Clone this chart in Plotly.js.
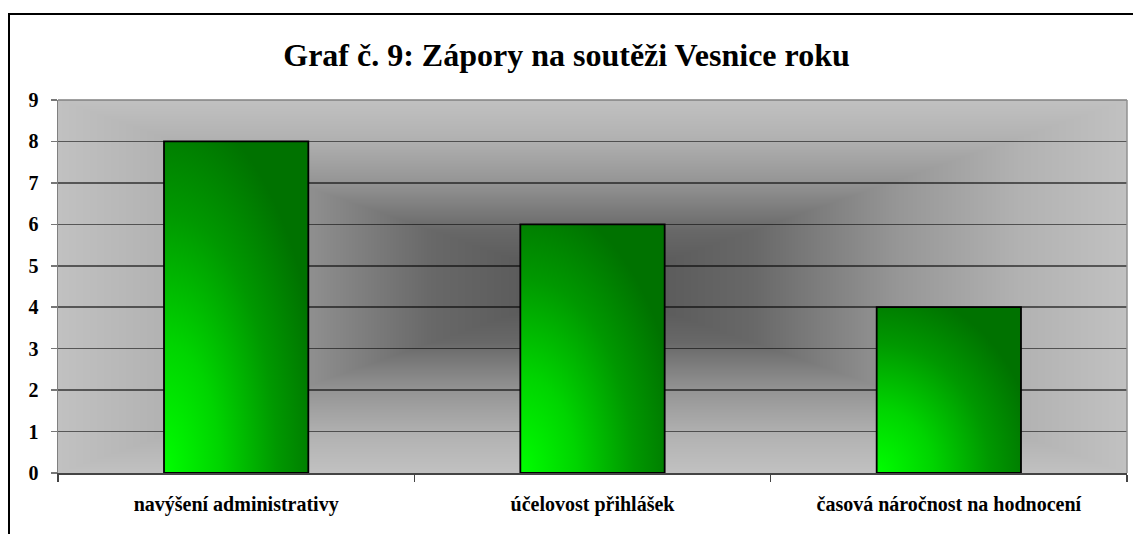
<!DOCTYPE html>
<html>
<head>
<meta charset="utf-8">
<script src="https://cdn.plot.ly/plotly-3.0.1.min.js"></script>
<style>
  html, body { margin: 0; padding: 0; background: #fff; }
  #wrap { position: relative; width: 1133px; height: 534px; overflow: hidden; }
  #chart { position: absolute; left: 0; top: 0; width: 1133px; height: 534px; }
  #frame { position: absolute; left: 8px; top: 13px; width: 1200px; height: 600px;
           border-left: 2.5px solid #000; border-top: 2.5px solid #000; pointer-events: none; }
</style>
</head>
<body>
<div id="wrap">
  <div id="chart"></div>
  <div id="frame"></div>
</div>
<script>
const titleText = "Graf č. 9: Zápory na soutěži Vesnice roku";
const categories = ["navýšení administrativy", "účelovost přihlášek", "časová náročnost na hodnocení"];
const values = [8, 6, 4];
const yTicks = [0, 1, 2, 3, 4, 5, 6, 7, 8, 9];

const W = 1133, H = 534;
const M = { l: 58, r: 6, t: 100, b: 61 };

// Plot-area "from center" gray gradient background
function makeBg(w, h) {
  const c = document.createElement('canvas');
  c.width = w; c.height = h;
  const ctx = c.getContext('2d');
  const img = ctx.createImageData(w, h);
  const stops = [[0, 82], [0.3, 104], [0.57, 150], [0.8, 178], [1, 193]];
  function col(t) {
    for (let i = 1; i < stops.length; i++) {
      if (t <= stops[i][0]) {
        const a = stops[i - 1], b = stops[i];
        const f = (t - a[0]) / (b[0] - a[0]);
        return a[1] + (b[1] - a[1]) * f;
      }
    }
    return stops[stops.length - 1][1];
  }
  const cx = w / 2, cy = h / 2;
  for (let y = 0; y < h; y++) {
    for (let x = 0; x < w; x++) {
      const t = Math.min(1, Math.max(Math.abs(x + 0.5 - cx) / cx, Math.abs(y + 0.5 - cy) / cy));
      const v = Math.round(col(t));
      const k = (y * w + x) * 4;
      img.data[k] = v; img.data[k + 1] = v; img.data[k + 2] = v; img.data[k + 3] = 255;
    }
  }
  ctx.putImageData(img, 0, 0);
  return c.toDataURL('image/png');
}
const pw = W - M.l - M.r, ph = H - M.t - M.b;
const bgSrc = makeBg(pw, ph);

const serif = "'Liberation Serif', 'Times New Roman', 'DejaVu Serif', serif";

const trace = {
  type: 'bar',
  x: categories,
  y: values,
  width: 0.405,
  marker: { color: '#00a000', line: { color: '#000', width: 1.8 } },
  hoverinfo: 'none'
};

const layout = {
  width: W, height: H,
  margin: M,
  paper_bgcolor: '#ffffff',
  plot_bgcolor: 'rgba(0,0,0,0)',
  showlegend: false,
  title: {
    text: titleText,
    font: { family: serif, size: 32, color: '#000', weight: 'bold' },
    x: 0.5, xanchor: 'center', y: 1 - 55 / H, yanchor: 'middle', yref: 'container'
  },
  xaxis: {
    type: 'category',
    tickson: 'boundaries',
    ticks: 'outside', ticklen: 7, tickwidth: 1.5, tickcolor: '#444',
    showline: true, linecolor: '#444', linewidth: 2, mirror: false,
    showgrid: false,
    tickfont: { family: serif, size: 20, color: '#000', weight: 'bold' },
    ticklabelstandoff: 12,
    fixedrange: true
  },
  yaxis: {
    range: [0, 9],
    tickvals: yTicks,
    ticktext: yTicks.map(String),
    ticks: 'outside', ticklen: 6, tickwidth: 1.5, tickcolor: '#777',
    showline: true, linecolor: '#808080', linewidth: 1.5,
    showgrid: true, gridcolor: 'rgba(0,0,0,0.55)', gridwidth: 1.5,
    zeroline: false,
    tickfont: { family: serif, size: 20, color: '#000', weight: 'bold' },
    ticklabelstandoff: 8,
    fixedrange: true
  },
  shapes: [
    { type: 'line', xref: 'paper', yref: 'paper', x0: 0, x1: 1, y0: 1, y1: 1, line: { color: '#808080', width: 1.5 } },
    { type: 'line', xref: 'paper', yref: 'paper', x0: 1, x1: 1, y0: 0, y1: 1, line: { color: '#909090', width: 1.5 } }
  ],
  images: [{
    source: bgSrc, xref: 'paper', yref: 'paper', x: 0, y: 1, sizex: 1, sizey: 1,
    sizing: 'stretch', xanchor: 'left', yanchor: 'top', layer: 'below'
  }]
};

Plotly.newPlot('chart', [trace], layout, { displayModeBar: false, staticPlot: true }).then(function (gd) {
  const svg = gd.querySelector('svg.main-svg');
  const NS = 'http://www.w3.org/2000/svg';
  let defs = svg.querySelector('defs');
  if (!defs) { defs = document.createElementNS(NS, 'defs'); svg.insertBefore(defs, svg.firstChild); }
  const g = document.createElementNS(NS, 'radialGradient');
  g.setAttribute('id', 'barGrad');
  g.setAttribute('cx', '0'); g.setAttribute('cy', '1');
  g.setAttribute('fx', '0'); g.setAttribute('fy', '1');
  g.setAttribute('r', '1.12');
  const st = [[0, '#00ff00'], [0.35, '#00d400'], [0.7, '#009800'], [1, '#007200']];
  st.forEach(function (s) {
    const e = document.createElementNS(NS, 'stop');
    e.setAttribute('offset', s[0]);
    e.setAttribute('stop-color', s[1]);
    g.appendChild(e);
  });
  defs.appendChild(g);
  gd.querySelectorAll('.bars .point path').forEach(function (p) {
    p.style.fill = 'url(#barGrad)';
    p.style.fillOpacity = '1';
  });
});
</script>
</body>
</html>
